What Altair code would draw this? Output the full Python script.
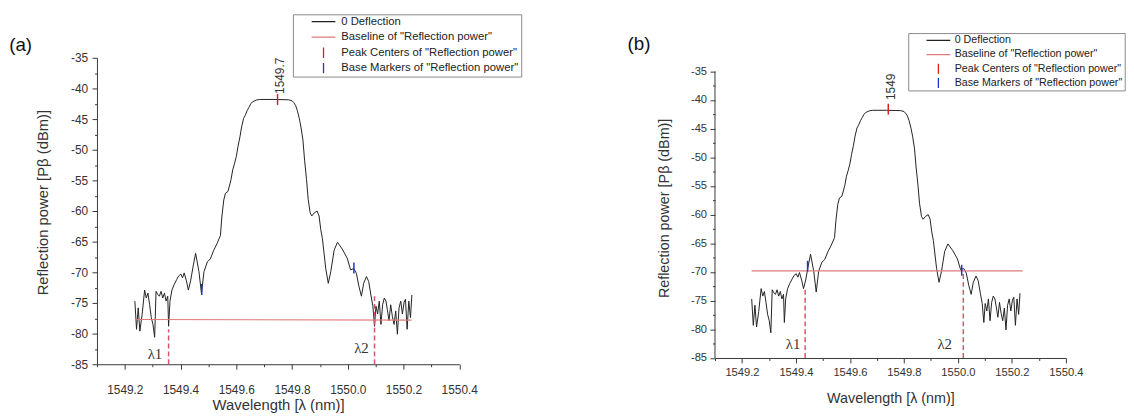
import altair as alt
import pandas as pd

# ---------------- data ----------------
wavelength_nm = [
    1549.236, 1549.242, 1549.248, 1549.254, 1549.262, 1549.271, 1549.277, 1549.283, 1549.289, 1549.295,
    1549.301, 1549.307, 1549.312, 1549.318, 1549.324, 1549.330, 1549.336, 1549.342, 1549.348, 1549.354,
    1549.357, 1549.362, 1549.369, 1549.377, 1549.386, 1549.393, 1549.401, 1549.407, 1549.413, 1549.421,
    1549.428, 1549.436, 1549.446, 1549.454, 1549.466, 1549.475, 1549.484, 1549.496, 1549.507, 1549.519,
    1549.531, 1549.543,
    1549.548, 1549.555, 1549.561, 1549.570, 1549.581, 1549.587, 1549.594, 1549.600, 1549.606, 1549.613,
    1549.619, 1549.626, 1549.632, 1549.639, 1549.645, 1549.652, 1549.658, 1549.671, 1549.684, 1549.735,
    1549.787, 1549.800, 1549.806, 1549.813, 1549.819, 1549.826, 1549.832, 1549.839, 1549.845, 1549.852,
    1549.858, 1549.865, 1549.871, 1549.880, 1549.890, 1549.897, 1549.903,
    1549.909, 1549.921, 1549.930, 1549.939, 1549.951, 1549.963, 1549.980, 1549.998, 1550.010, 1550.022,
    1550.031, 1550.040, 1550.049, 1550.057, 1550.067, 1550.075, 1550.083, 1550.090, 1550.096, 1550.101,
    1550.107, 1550.113, 1550.119, 1550.125, 1550.131, 1550.137, 1550.142, 1550.148, 1550.154, 1550.160,
    1550.166, 1550.172, 1550.178, 1550.184, 1550.190, 1550.196, 1550.202, 1550.207, 1550.213, 1550.219,
    1550.225, 1550.230,
]
power_dbm = [
    -74.7, -79.3, -75.8, -79.6, -76.9, -72.9, -74.2, -73.4, -75.3, -77.4,
    -78.5, -80.6, -73.1, -73.6, -73.9, -73.1, -74.2, -73.4, -74.7, -73.9,
    -78.8, -74.7, -72.9, -72.0, -71.2, -70.6, -70.3, -70.9, -70.1, -71.4,
    -72.9, -71.4, -68.8, -66.9, -69.9, -73.5, -69.9, -68.3, -67.8, -66.4,
    -65.3, -64.0,
    -61.0, -58.2, -57.1, -56.8, -54.9, -53.3, -52.2, -51.1, -49.5, -47.9,
    -46.3, -44.9, -44.4, -43.6, -43.1, -42.5, -42.2, -41.9, -41.8, -41.8,
    -41.85, -42.0, -42.3, -42.8, -43.6, -44.9, -46.3, -48.4, -51.7, -54.9,
    -58.1, -60.3, -60.8, -60.3, -60.0, -60.8, -63.0,
    -64.5, -69.4, -71.8, -69.9, -66.4, -65.1, -66.2, -67.7, -69.6, -69.4,
    -70.2, -72.3, -73.9, -71.8, -70.7, -71.5, -73.7, -75.5, -78.8, -75.5,
    -76.8, -74.7, -78.5, -75.3, -74.2, -74.7, -76.1, -77.9, -75.3, -77.2,
    -78.5, -76.3, -80.1, -75.8, -74.7, -76.8, -74.9, -74.4, -79.3, -74.7,
    -77.4, -73.7,
]

series_names = [
    "0 Deflection",
    'Baseline of "Reflection power"',
    'Peak Centers of "Reflection power"',
    'Base Markers of "Reflection power"',
]
series_colors = ["#222222", "#e07a7a", "#d62020", "#2233cc"]
series_shapes = ["M-2.4,0L2.4,0", "M-2.4,0L2.4,0", "M0,-1.1L0,1.1", "M0,-1.1L0,1.1"]

x_ticks = [1549.1, 1549.2, 1549.3, 1549.4, 1549.5, 1549.6, 1549.7,
           1549.8, 1549.9, 1550.0, 1550.1, 1550.2, 1550.3, 1550.4]
y_ticks = [-85, -82.5, -80, -77.5, -75, -72.5, -70, -67.5, -65, -62.5, -60,
           -57.5, -55, -52.5, -50, -47.5, -45, -42.5, -40, -37.5, -35]

# panel (a)
baseline_a_x = [1549.236, 1550.229]
baseline_a_y = [-77.7, -77.8]
peak_a_x = [1549.748]
peak_a_y = [-41.8]
base_a_x = [1549.476, 1550.022]
base_a_y = [-72.8, -69.3]
lambda_a_x = [1549.357, 1550.096]
lambda_a_top = [-79.3, -73.9]
lambda_label_a_x = [1549.308, 1550.049]
lambda_label_a_y = [-84.1, -83.1]

# panel (b)
baseline_b_x = [1549.236, 1550.240]
baseline_b_y = [-69.8, -69.8]
peak_b_x = [1549.742]
peak_b_y = [-41.6]
base_b_x = [1549.443, 1550.014]
base_b_y = [-69.0, -69.7]
lambda_b_x = [1549.434, 1550.020]
lambda_b_top = [-72.8, -69.9]
lambda_label_b_x = [1549.389, 1549.951]
lambda_label_b_y = [-83.4, -83.4]

lambda_labels = ["λ1", "λ2"]
peak_label_text = "1549.75"

FONT = "Liberation Sans"
AX = "#3a3a3a"


def panel(tag, w, h, ydom, lab_fs, title_fs, xlab_pad, xtitle_pad, ylab_pad, ytitle_pad,
          ytitle_y, show_ydomain, legend_x, legend_y, legend_fs, legend_pad, legend_rowpad,
          sym_off, lab_off, bl_x, bl_y, pk_x, pk_y, bs_x, bs_y, lm_x, lm_top, ll_x, ll_y,
          pl_x, pl_y, pl_limit, tag_x, tag_y):
    xs = alt.Scale(domain=[1549.1, 1550.4], nice=False, zero=False)
    ys = alt.Scale(domain=ydom, nice=False, zero=False)

    yaxis_kwargs = dict(
        title="Reflection power [Pβ (dBm)]", values=y_ticks,
        labelExpr="datum.value % 5 == 0 ? '' + datum.value : ''",
        tickSize={"condition": {"test": "datum.value % 5 == 0", "value": 5}, "value": 2.5},
        grid=False, labelOverlap=False, labelFlush=False,
        labelFont=FONT, labelFontSize=lab_fs, labelColor="#333", labelPadding=ylab_pad,
        tickColor=AX, domainColor=AX, domain=show_ydomain,
        titleFont=FONT, titleFontSize=title_fs, titleFontWeight="normal", titleColor="#333",
        titlePadding=ytitle_pad,
    )
    if ytitle_y is not None:
        yaxis_kwargs["titleY"] = ytitle_y
    x_axis = alt.Axis(
        title="Wavelength [λ (nm)]", values=x_ticks,
        labelExpr="round(datum.value * 10) % 2 == 0 ? format(datum.value, '.1f') : ''",
        tickSize={"condition": {"test": "round(datum.value * 10) % 2 == 0", "value": 5}, "value": 2.5},
        grid=False, labelOverlap=False, labelFlush=False,
        labelFont=FONT, labelFontSize=lab_fs, labelColor="#333", labelPadding=xlab_pad,
        tickColor=AX, domainColor=AX,
        titleFont=FONT, titleFontSize=title_fs, titleFontWeight="normal", titleColor="#333",
        titlePadding=xtitle_pad,
    )
    y_axis = alt.Axis(**yaxis_kwargs)

    def X(f="x"):
        return alt.X(f + ":Q", scale=xs, axis=x_axis)

    def Y(f="y"):
        return alt.Y(f + ":Q", scale=ys, axis=y_axis)

    curve_df = pd.DataFrame({"x": wavelength_nm, "y": power_dbm})
    curve = alt.Chart(curve_df).mark_line(color=series_colors[0], strokeWidth=1).encode(x=X(), y=Y())

    bl_df = pd.DataFrame({"x": bl_x, "y": bl_y})
    baseline = alt.Chart(bl_df).mark_line(color=series_colors[1], strokeWidth=1.2).encode(x=X(), y=Y())

    lm_df = pd.DataFrame({"x": lm_x, "y": [-85, -85], "y2": lm_top})
    dashes = alt.Chart(lm_df).mark_rule(color="#d4566a", strokeWidth=1.5, strokeDash=[5, 3]).encode(
        x=X(), y=Y(), y2="y2:Q")

    ll_df = pd.DataFrame({"x": ll_x, "y": ll_y, "t": lambda_labels})
    lam_text = alt.Chart(ll_df).mark_text(
        font="Liberation Serif", fontSize=15, color="#333", align="center", baseline="alphabetic"
    ).encode(x=X(), y=Y(), text="t:N")

    pl_df = pd.DataFrame({"x": [pl_x], "y": [pl_y], "t": [peak_label_text]})
    peak_text = alt.Chart(pl_df).mark_text(
        font=FONT, fontSize=12, color="#333", angle=270, align="left", baseline="middle",
        limit=pl_limit, ellipsis="\u200a"
    ).encode(x=X(), y=Y(), text="t:N")

    mk_df = pd.DataFrame({
        "x": pk_x + bs_x,
        "y": pk_y + bs_y,
        "series": [series_names[2]] * len(pk_x) + [series_names[3]] * len(bs_x),
    })
    legend = alt.Legend(
        orient="none", legendX=legend_x, legendY=legend_y, title=None,
        strokeColor="#8a8a8a", padding=legend_pad, fillColor="white",
        labelFont=FONT, labelFontSize=legend_fs, labelColor="#222", labelLimit=400,
        symbolSize=100, symbolStrokeWidth=1.3, symbolOffset=sym_off, labelOffset=lab_off,
        rowPadding=legend_rowpad, clipHeight=10,
    )
    markers = alt.Chart(mk_df).mark_point(filled=False, size=100, strokeWidth=1.5, opacity=1).encode(
        x=X(), y=Y(),
        color=alt.Color("series:N", scale=alt.Scale(domain=series_names, range=series_colors), legend=legend),
        shape=alt.Shape("series:N", scale=alt.Scale(domain=series_names, range=series_shapes), legend=legend),
    )

    tag_df = pd.DataFrame({"t": [tag]})
    tag_text = alt.Chart(tag_df).mark_text(
        font=FONT, fontSize=19, color="#111", align="left", baseline="alphabetic"
    ).encode(x=alt.value(tag_x), y=alt.value(tag_y), text="t:N")

    layers = [curve, baseline, dashes, lam_text, peak_text, markers, tag_text]
    if not show_ydomain:
        ax_df = pd.DataFrame({"x": [1549.1], "y": [-85.0], "y2": [-35.0]})
        axis_line = alt.Chart(ax_df).mark_rule(color=AX, strokeWidth=1).encode(
            x=X(), y=Y(), y2="y2:Q")
        layers.append(axis_line)
    return alt.layer(*layers).properties(width=w, height=h)


panel_a = panel("(a)", 366.5, 310, [-85, -35], 12, 15, 15.5, 2.5, 4.5, 20, 146, True,
                198.2, -44, 11.4, 2.5, 3.6, 22.5, 12,
                baseline_a_x, baseline_a_y, peak_a_x, peak_a_y, base_a_x, base_a_y,
                lambda_a_x, lambda_a_top, lambda_label_a_x, lambda_label_a_y,
                1549.756, -40.9, 38, -88.8, -7)

panel_b = panel("(b)", 355, 303.7, [-85, -32.64], 11.3, 14.5, 3.5, 14.5, 3.5, 19, None, False,
                195.5, -25, 10.8, 2.3, 3.4, 22.2, 10.5,
                baseline_b_x, baseline_b_y, peak_b_x, peak_b_y, base_b_x, base_b_y,
                lambda_b_x, lambda_b_top, lambda_label_b_x, lambda_label_b_y,
                1549.753, -40.0, 30, -88.5, -7.7)

chart = alt.hconcat(panel_a, panel_b, spacing=258.2, bounds="flush").resolve_scale(
    x="independent", y="independent", color="independent", shape="independent"
).resolve_legend(color="independent", shape="independent").properties(
    padding={"left": 0, "top": 3, "right": 0, "bottom": 0}
).configure_view(stroke="transparent")

chart.save("out.html", embed_options={"renderer": "svg", "actions": False})
